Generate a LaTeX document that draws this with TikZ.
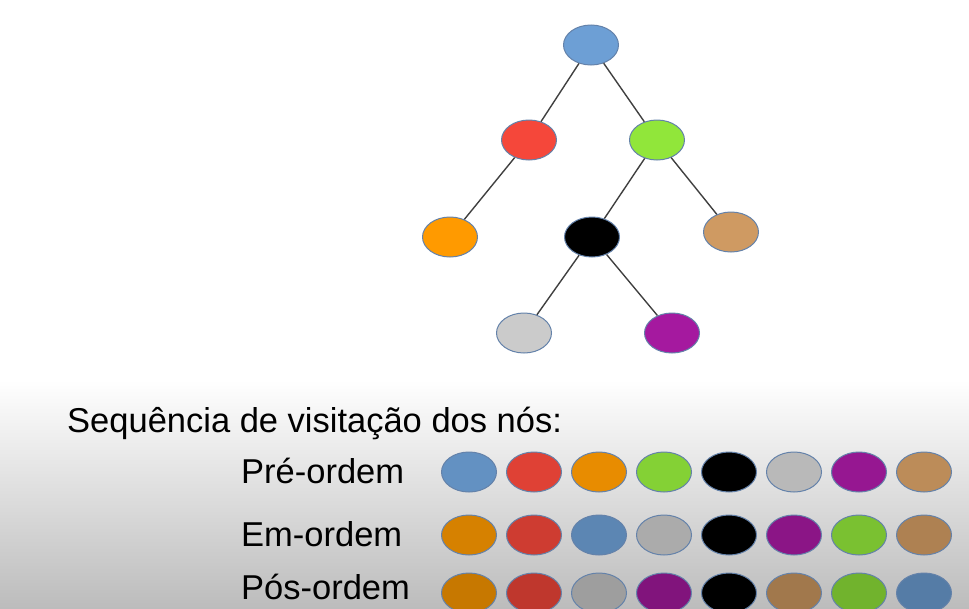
\documentclass[tikz,border=0pt]{standalone}
\usepackage{fontspec}
\setmainfont{Liberation Sans}
\usetikzlibrary{positioning,shapes.geometric}
\definecolor{nodeblue}{HTML}{6D9FD5}
\definecolor{nodered}{HTML}{F5473A}
\definecolor{nodegreen}{HTML}{91E63A}
\definecolor{nodeorange}{HTML}{FF9A00}
\definecolor{nodeblack}{HTML}{000000}
\definecolor{nodetan}{HTML}{CF9A62}
\definecolor{nodegray}{HTML}{CBCBCB}
\definecolor{nodepurple}{HTML}{A5199F}
\definecolor{outline}{HTML}{6482AA}
\definecolor{edgegray}{HTML}{404040}
\definecolor{bggray}{HTML}{BCBCBC}
\tikzset{
  my node/.style={
    draw=outline,
    ellipse,
    minimum width=55pt,
    minimum height=40pt,
    inner sep=0pt,
    line width=1pt
  },
  my label/.style={
    anchor=base west,
    inner sep=0pt,
    font=\fontsize{34.5}{40}\selectfont
  },
  my tree/.style={
    on grid,
    every edge/.style={draw=edgegray,line width=1.4pt}
  }
}

\begin{document}
\begin{tikzpicture}[x=1pt,y=-1pt]
\useasboundingbox (0,0) rectangle (969,608);
\shade[top color=white,bottom color=bggray] (0,380) rectangle (969,608);
% tree
\begin{scope}[my tree]
\node[my node,fill=nodeblue]                                 (0) at (591,45) {};
\node[my node,fill=nodered,below left=95pt and 62pt of 0]     (1) {};
\node[my node,fill=nodeorange,below left=97pt and 79pt of 1]  (2) {};
\node[my node,fill=nodegreen,below right=95pt and 66pt of 0]  (3) {};
\node[my node,fill=nodeblack,below left=97pt and 65pt of 3]   (4) {};
\node[my node,fill=nodegray,below left=96pt and 68pt of 4]    (5) {};
\node[my node,fill=nodepurple,below right=96pt and 80pt of 4] (6) {};
\node[my node,fill=nodetan,below right=92pt and 74pt of 3]    (7) {};
\path (0) edge (1)
      (0) edge (3)
      (1) edge (2)
      (3) edge (4)
      (3) edge (7)
      (4) edge (5)
      (4) edge (6);
\end{scope}
% visit orders
\node[my label] (title) at (67,432) {Sequência de visitação dos nós:};
\node[my label] (pre label)  at (241,483) {Pré-ordem};
\node[my label] (in label)   at (241,546) {Em-ordem};
\node[my label] (post label) at (241,599) {Pós-ordem};
\foreach \c [count=\i] in {nodeblue,nodered,nodeorange,nodegreen,nodeblack,nodegray,nodepurple,nodetan}
  \node[my node,fill=\c!91!black] (pre\i) at (404+65*\i,472) {};
\foreach \c [count=\i] in {nodeorange,nodered,nodeblue,nodegray,nodeblack,nodepurple,nodegreen,nodetan}
  \node[my node,fill=\c!84!black] (in\i) at (404+65*\i,535) {};
\foreach \c [count=\i] in {nodeorange,nodered,nodegray,nodepurple,nodeblack,nodetan,nodegreen,nodeblue}
  \node[my node,fill=\c!78!black] (post\i) at (404+65*\i,593) {};
\end{tikzpicture}
\end{document}
